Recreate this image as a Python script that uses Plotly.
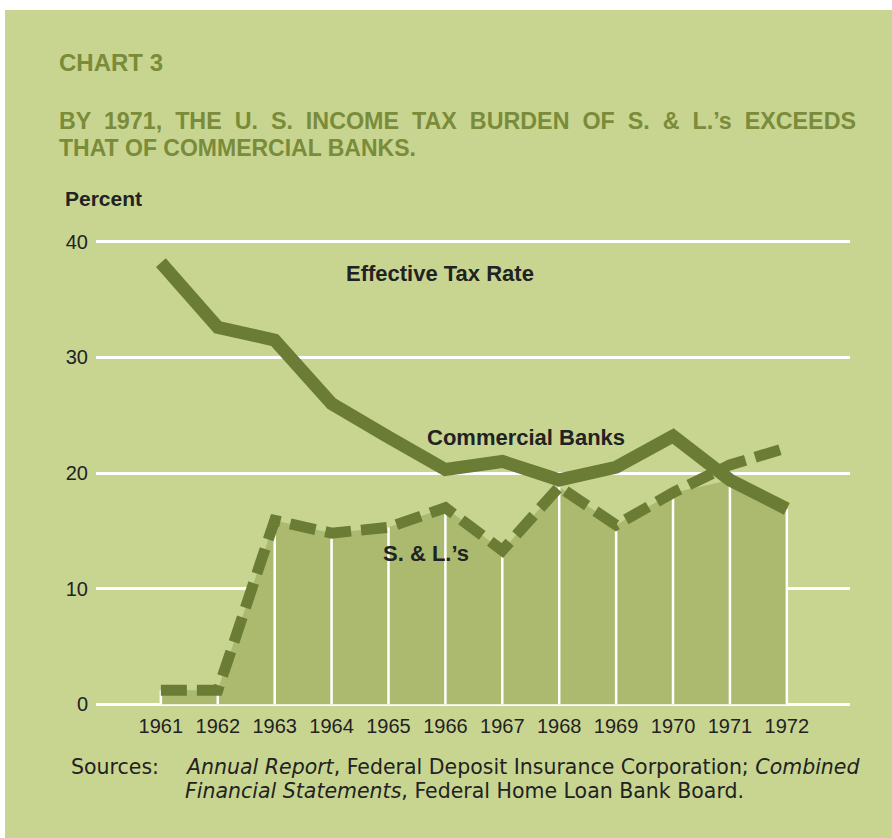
import plotly.graph_objects as go

years = [1961, 1962, 1963, 1964, 1965, 1966, 1967, 1968, 1969, 1970, 1971, 1972]
commercial_banks = [38.2, 32.6, 31.5, 26.0, 23.1, 20.3, 21.0, 19.4, 20.5, 23.2, 19.4, 16.9]
savings_loans = [1.2, 1.2, 15.9, 14.8, 15.3, 17.0, 13.3, 18.8, 15.5, 18.3, 20.7, 22.2]
y_ticks = [0, 10, 20, 30, 40]

W, H = 892, 838
L, R, T, B = 96, 850, 236, 710
BG = "#c8d591"
FILL = "#abba6e"
LINE = "#6b7d35"
TITLE_C = "#7a8b3a"
DARK = "#222222"


def px(x):
    return (x - L) / (R - L)


def py(y):
    return (B - y) / (B - T)


lower = [min(a, b) for a, b in zip(commercial_banks, savings_loans)]
vx, vy = [], []
for yr, v in zip(years, lower):
    vx += [yr, yr, None]
    vy += [0, v, None]

fig = go.Figure()
fig.add_trace(go.Scatter(x=years, y=lower, mode="lines", fill="tozeroy",
                         fillcolor=FILL, line=dict(width=0), hoverinfo="skip"))
fig.add_trace(go.Scatter(x=vx, y=vy, mode="lines", line=dict(color="white", width=2.5),
                         hoverinfo="skip"))
fig.add_trace(go.Scatter(x=years, y=savings_loans, mode="lines",
                         line=dict(color=LINE, width=11, dash="26px,10px")))
fig.add_trace(go.Scatter(x=years, y=commercial_banks, mode="lines",
                         line=dict(color=LINE, width=13)))

fig.update_layout(
    width=W, height=H,
    margin=dict(l=L, r=W - R, t=T, b=H - B, pad=0),
    paper_bgcolor="white",
    plot_bgcolor="rgba(0,0,0,0)",
    showlegend=False,
    font=dict(family="Liberation Sans, Arial, sans-serif", color=DARK),
    xaxis=dict(range=[1959.86, 1973.11], tickvals=years, ticktext=[str(y) for y in years],
               showgrid=False, zeroline=False, showline=False, ticks="",
               tickfont=dict(size=20, color=DARK), ticklabelstandoff=2, fixedrange=True),
    yaxis=dict(range=[-0.5, 40.5], tickvals=y_ticks, showgrid=True, gridcolor="white",
               gridwidth=2.5, zeroline=False, showline=False, ticks="",
               tickfont=dict(size=20, color=DARK), ticklabelstandoff=7, fixedrange=True),
    shapes=[dict(type="rect", xref="paper", yref="paper", layer="below",
                 x0=px(5), x1=px(W + 5), y0=py(H + 5), y1=py(10),
                 fillcolor=BG, line=dict(width=0))],
)

ann = []


def add(text, x, y, size, color=DARK, xanchor="left"):
    ann.append(dict(text="<b>" + text + "</b>", x=px(x), y=py(y), xref="paper", yref="paper",
                    xanchor=xanchor, yanchor="middle", showarrow=False,
                    font=dict(size=size, color=color, family="Liberation Sans, Arial")))


add("CHART 3", 57, 62, 24, TITLE_C)
add("BY  1971,  THE  U.  S.  INCOME  TAX  BURDEN  OF  S.  &amp;  L.’s  EXCEEDS", 57, 121, 23.3, TITLE_C)
add("THAT OF COMMERCIAL BANKS.", 57, 148, 23, TITLE_C)
add("Percent", 63, 199, 21, DARK)
add("Effective Tax Rate", 440, 273, 22, DARK, xanchor="center")
add("Commercial Banks", 526, 437, 22, DARK, xanchor="center")
add("S. &amp; L.’s", 426, 553, 22, DARK, xanchor="center")

src_font = dict(size=20.5, color=DARK, family="DejaVu Sans, Liberation Sans, Arial")
ann.append(dict(text="Sources:", x=px(69), y=py(767), xref="paper", yref="paper",
                xanchor="left", yanchor="middle", showarrow=False, font=src_font))
ann.append(dict(text="<i>Annual Report</i>, Federal Deposit Insurance Corporation; <i>Combined</i>",
                x=px(183), y=py(767), xref="paper", yref="paper", xanchor="left",
                yanchor="middle", showarrow=False, font=src_font))
ann.append(dict(text="<i>Financial Statements</i>, Federal Home Loan Bank Board.",
                x=px(183), y=py(791), xref="paper", yref="paper", xanchor="left",
                yanchor="middle", showarrow=False, font=src_font))
fig.update_layout(annotations=ann)

fig.write_html("out.html")
